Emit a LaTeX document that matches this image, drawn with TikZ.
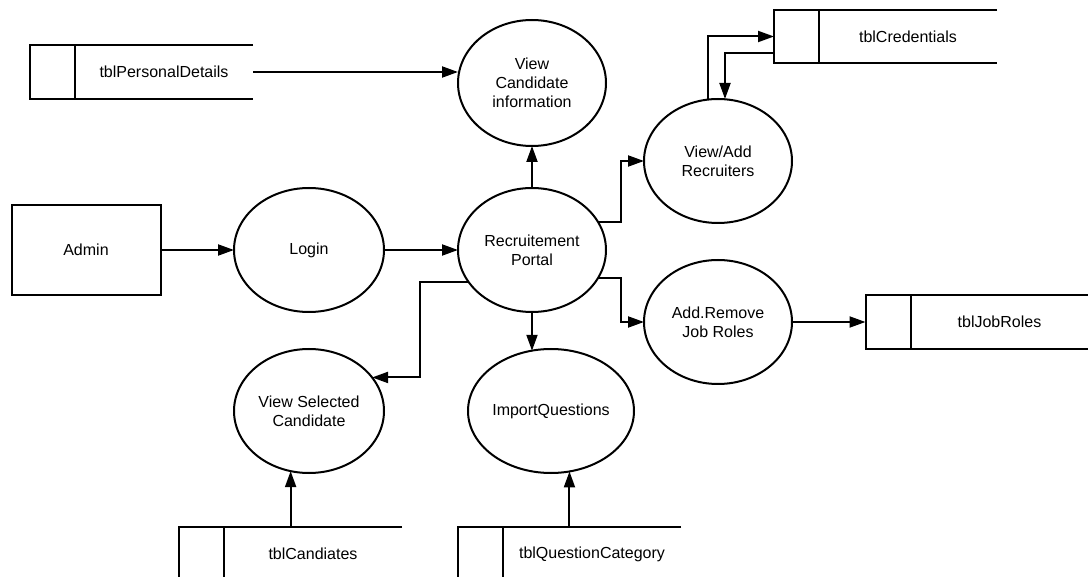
\documentclass[tikz,border=0pt]{standalone}
\usepackage{fontspec}
\setmainfont{Liberation Sans}
\usetikzlibrary{shapes.geometric,arrows.meta}

% draws the open-ended data store outline around a label node
\newcommand\dfdstore[1]{%
  \draw[line] (#1.north east) -- ([xshift=-45pt]#1.north west)
    -- ([xshift=-45pt]#1.south west) -- (#1.south east);
  \draw[line] (#1.north west) -- (#1.south west);
}

\begin{document}
\begin{tikzpicture}[x=1pt,y=-1pt,
  font=\fontsize{16pt}{19pt}\selectfont,
  line/.style={line width=2pt},
  flow/.style={line width=2pt,-{Triangle[length=16pt,width=11pt]}},
  process/.style={ellipse,draw,line width=2pt,inner sep=0pt,outer sep=0pt,
    minimum width=150pt,minimum height=124pt,align=center},
  entity/.style={rectangle,draw,line width=2pt,inner sep=0pt,outer sep=0pt,
    minimum width=149pt,minimum height=90pt},
  store/.style={rectangle,inner sep=0pt,outer sep=0pt,
    minimum width=178pt,minimum height=54pt}]
\clip (0,0) rectangle (1088,577);
\fill[white] (0,0) rectangle (1088,577);

% external entity and processes
\node[entity] (admin) at (86,250) {Admin};
\node[process] (login) at (309,250) {Login};
\node[process,minimum width=148pt] (portal) at (532,250) {Recruitement\\Portal};
\node[process,minimum width=148pt,minimum height=126pt] (vci) at (532,83) {View\\Candidate\\information};
\node[process,minimum width=148pt] (va) at (718,161) {View/Add\\Recruiters};
\node[process,minimum width=148pt] (ar) at (718,322) {Add.Remove\\Job Roles};
\node[process] (iq) at (551,411) {ImportQuestions};
\node[process] (vsc) at (309,411) {View Selected\\Candidate};

% data stores
\node[store] (pd) at (164,72) {tblPersonalDetails};
\node[store,minimum height=53pt] (cr) at (908,36.5) {tblCredentials};
\node[store] (jr) at (999.5,322) {tblJobRoles};
\node[store] (ca) at (313,554) {tblCandiates};
\node[store] (qc) at (592,554) {tblQuestionCategory};
\dfdstore{pd}
\dfdstore{cr}
\dfdstore{jr}
\dfdstore{ca}
\dfdstore{qc}

% data flows
\draw[flow] (pd.east) -- (pd.east -| vci.west);
\draw[flow] (admin.east) -- (login.west);
\draw[flow] (login.east) -- (portal.west);
\draw[flow] (portal.north) -- (vci.south);
\draw[flow] (portal.23) -| ([xshift=-23pt]va.west) -- (va.west);
\draw[flow] (portal.-23) -| ([xshift=-23pt]ar.west) -- (ar.west);
\draw[flow] (ar.east) -- ([xshift=-45pt]jr.west);
\draw[flow] ([xshift=-10pt]va.north) |- ([xshift=-45pt]cr.west);
\draw[flow] ([xshift=-45pt,yshift=-16.5pt]cr.west) -| ([xshift=7pt]va.north);
\draw[flow] (portal.south) -- (portal.south |- iq.108);
\draw[flow] (portal.207) -| ([xshift=48pt]vsc.28) -- (vsc.28);
\draw[flow] (vsc.253 |- ca.north) -- (vsc.253);
\draw[flow] (iq.287 |- qc.north) -- (iq.287);
\end{tikzpicture}
\end{document}
